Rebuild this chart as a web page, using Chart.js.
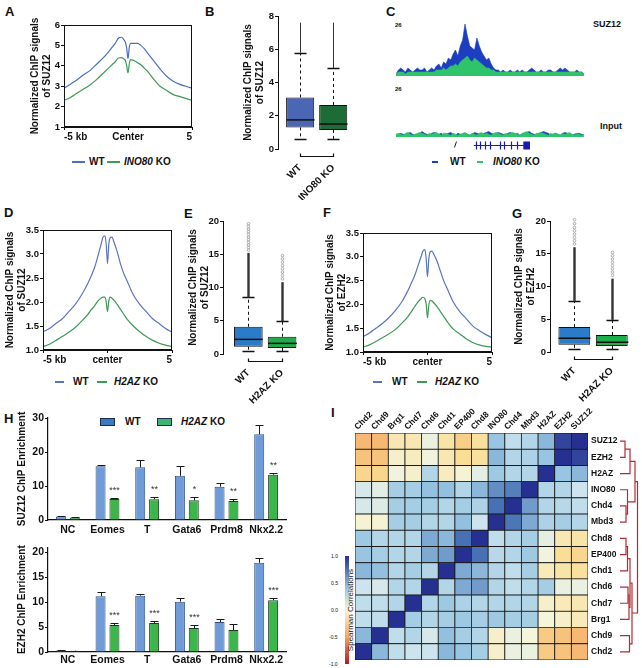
<!DOCTYPE html>
<html>
<head>
<meta charset="utf-8">
<script src="https://cdn.jsdelivr.net/npm/chart.js@4.4.0/dist/chart.umd.min.js"></script>
<style>
body { margin: 0; background: #fff; }
#fig { position: relative; width: 642px; height: 668px; overflow: hidden; font-family: 'Liberation Sans', Arial, sans-serif; color: #111; }
#fig canvas { position: absolute; }
.t { position: absolute; white-space: nowrap; font-weight: bold; line-height: 12px; font-size: 10px; }
.p { position: absolute; font-weight: bold; font-size: 13px; line-height: 13px; }
.d { position: absolute; height: 2px; }
.b { position: absolute; height: 6px; border: 1px solid #1a3050; }
</style>
</head>
<body>
<div id="fig">
  <div class="p" style="left:5px;top:5px">A</div>
  <div class="p" style="left:205px;top:5px">B</div>
  <div class="p" style="left:386px;top:5px">C</div>
  <div class="p" style="left:4px;top:206px">D</div>
  <div class="p" style="left:184px;top:207px">E</div>
  <div class="p" style="left:323px;top:206px">F</div>
  <div class="p" style="left:512px;top:207px">G</div>
  <div class="p" style="left:4px;top:412px">H</div>
  <div class="p" style="left:331px;top:406px">I</div>

  <!-- legend A -->
  <div class="d" style="left:72px;top:161px;width:13px;background:#4a70c0"></div>
  <div class="t" style="left:89px;top:156px">WT</div>
  <div class="d" style="left:107px;top:161px;width:13px;background:#3f9a55"></div>
  <div class="t" style="left:124px;top:156px"><i>INO80</i> KO</div>

  <!-- panel C labels -->
  <div class="t" style="left:395px;top:19px;font-size:6px">26</div>
  <div class="t" style="left:593px;top:18px;font-size:9px">SUZ12</div>
  <div class="t" style="left:395px;top:83px;font-size:6px">26</div>
  <div class="t" style="left:600px;top:120px;font-size:9px">Input</div>
  <div class="d" style="left:432px;top:161px;width:6px;background:#1d3ec0"></div>
  <div class="t" style="left:450px;top:156px">WT</div>
  <div class="d" style="left:477px;top:161px;width:6px;background:#2fc46a"></div>
  <div class="t" style="left:493px;top:156px"><i>INO80</i> KO</div>

  <!-- legend D -->
  <div class="d" style="left:55px;top:381px;width:9px;background:#5a74c4"></div>
  <div class="t" style="left:73px;top:376px">WT</div>
  <div class="d" style="left:97px;top:381px;width:10px;background:#3f9a55"></div>
  <div class="t" style="left:114px;top:376px"><i>H2AZ</i> KO</div>

  <!-- legend F -->
  <div class="d" style="left:373px;top:381px;width:9px;background:#5a74c4"></div>
  <div class="t" style="left:392px;top:376px">WT</div>
  <div class="d" style="left:417px;top:381px;width:10px;background:#3f9a55"></div>
  <div class="t" style="left:435px;top:376px"><i>H2AZ</i> KO</div>

  <!-- legend H -->
  <div class="b" style="left:100px;top:418px;width:13px;background:#3a78c4"></div>
  <div class="t" style="left:125px;top:416px">WT</div>
  <div class="b" style="left:157px;top:418px;width:13px;background:#3cb371"></div>
  <div class="t" style="left:181px;top:416px"><i>H2AZ</i> KO</div>

  <!-- colour bar I -->
  <div style="position:absolute;left:345px;top:556px;width:4px;height:108px;background:linear-gradient(to top, rgb(178,24,43), rgb(244,165,96) 25%, rgb(245,245,220) 50%, rgb(152,198,226) 70%, rgb(38,48,145))"></div>
  <div class="t" style="left:331px;top:550px;font-size:5px;font-weight:normal">1.0</div>
  <div class="t" style="left:331px;top:577px;font-size:5px;font-weight:normal">0.5</div>
  <div class="t" style="left:331px;top:604px;font-size:5px;font-weight:normal">0.0</div>
  <div class="t" style="left:329px;top:631px;font-size:5px;font-weight:normal">-0.5</div>
  <div class="t" style="left:329px;top:658px;font-size:5px;font-weight:normal">-1.0</div>
  <div class="t" style="left:306px;top:604px;font-size:8px;font-weight:normal;width:90px;text-align:center;transform:rotate(-90deg)">Spearman Correlations</div>
</div>

<script>
Chart.defaults.font.family = "'Liberation Sans', Arial, sans-serif";
Chart.defaults.font.size = 10;
Chart.defaults.font.weight = 'bold';
Chart.defaults.color = '#111';
Chart.defaults.animation = false;
Chart.defaults.responsive = false;
Chart.defaults.devicePixelRatio = 1;
Chart.defaults.plugins.legend.display = false;
Chart.defaults.plugins.tooltip.enabled = false;

// ---- profile data (A, D, F) ----
const profilePos = [-5, -4.5, -4, -3.5, -3, -2.5, -2, -1.5, -1.25, -1, -0.75, -0.5, -0.35, -0.2, -0.1, 0,
  0.1, 0.2, 0.35, 0.5, 0.75, 1, 1.25, 1.5, 2, 2.5, 3, 3.5, 4, 4.5, 5];
const aWT = [2.9, 3.1, 3.3, 3.55, 3.75, 4.05, 4.35, 4.7, 4.9, 5.1, 5.35, 5.4, 5.3, 5.15, 4.85, 4.35,
  4.9, 5.1, 5.1, 5.1, 5.1, 5.0, 4.85, 4.65, 4.25, 3.85, 3.5, 3.25, 3.1, 3.0, 2.9];
const aKO = [2.3, 2.45, 2.65, 2.85, 3.05, 3.3, 3.6, 3.9, 4.05, 4.2, 4.38, 4.4, 4.35, 4.25, 4.0, 3.65,
  4.1, 4.3, 4.28, 4.25, 4.15, 4.05, 3.9, 3.75, 3.35, 3.0, 2.8, 2.6, 2.5, 2.4, 2.3];
const dWT = [1.38, 1.45, 1.55, 1.65, 1.8, 1.95, 2.15, 2.4, 2.55, 2.72, 2.95, 3.2, 3.35, 3.38, 3.2, 2.8,
  3.2, 3.33, 3.35, 3.25, 3.05, 2.8, 2.6, 2.45, 2.15, 1.95, 1.8, 1.65, 1.55, 1.45, 1.37];
const dKO = [1.07, 1.12, 1.2, 1.28, 1.37, 1.47, 1.6, 1.75, 1.84, 1.92, 2.02, 2.08, 2.1, 2.1, 2.0, 1.8,
  2.02, 2.1, 2.08, 2.04, 1.95, 1.85, 1.75, 1.65, 1.5, 1.38, 1.28, 1.2, 1.14, 1.1, 1.07];
const fWT = [1.32, 1.4, 1.5, 1.6, 1.72, 1.87, 2.05, 2.3, 2.45, 2.6, 2.8, 3.0, 3.12, 3.15, 2.95, 2.58,
  2.95, 3.1, 3.12, 3.05, 2.9, 2.7, 2.5, 2.35, 2.05, 1.85, 1.7, 1.55, 1.45, 1.37, 1.3];
const fKO = [1.1, 1.15, 1.22, 1.3, 1.38, 1.47, 1.6, 1.75, 1.85, 1.95, 2.05, 2.12, 2.15, 2.12, 2.0, 1.72,
  1.98, 2.08, 2.07, 2.03, 1.95, 1.85, 1.75, 1.65, 1.48, 1.38, 1.28, 1.2, 1.15, 1.12, 1.1];

// ---- box plot data (B, E, G) ----
const bLabels = ['WT', 'INO80 KO'];
const bQ1 = [1.3, 1.15], bMed = [1.75, 1.5], bQ3 = [3.1, 2.65], bLo = [0.6, 0.6], bHi = [5.8, 4.85];
const bDense = [7.6, 7.6], bSparse = [[], []];
const eLabels = ['WT', 'H2AZ KO'];
const eQ1 = [1.1, 0.9], eMed = [2.2, 1.6], eQ3 = [4.1, 2.6], eLo = [0.4, 0.4], eHi = [8.5, 4.9];
const eDense = [15.2, 10.8];
const eSparse = [[15.6, 16.0, 16.4, 16.8, 17.2, 17.6, 18.0, 18.4, 18.8, 19.2, 19.6],
  [11.3, 11.8, 12.3, 12.8, 13.3, 13.8, 14.3, 14.8]];
const gLabels = ['WT', 'H2AZ KO'];
const gQ1 = [1.1, 0.9], gMed = [2.1, 1.5], gQ3 = [3.8, 2.6], gLo = [0.4, 0.4], gHi = [7.8, 4.9];
const gDense = [16.0, 11.2];
const gSparse = [[16.5, 17.0, 17.5, 18.0, 18.5, 19.0, 19.6, 20.2],
  [11.7, 12.2, 12.7, 13.2, 13.7, 14.2, 14.7, 15.2]];

// ---- genome tracks (C) ----
const trackWT = [1, 3, 4, 3, 2, 4, 3, 2, 3, 4, 3, 3, 4, 2, 3, 4, 3, 5, 6, 4,
  7, 6, 9, 8, 11, 13, 10, 15, 18, 26, 20, 15, 14, 13, 19, 15, 12, 10, 8, 9,
  6, 4, 3, 3, 2, 3, 2, 2, 3, 2, 2, 3, 2, 3, 2, 2, 3, 4, 3, 2,
  2, 3, 2, 2, 3, 3, 2, 2, 3, 4, 3, 4, 3, 2, 2, 2, 3, 2, 2, 1];
const trackKO = [1, 2, 2, 2, 1, 2, 2, 2, 2, 2, 2, 2, 2, 2, 2, 2, 2, 3, 3, 3,
  4, 3, 4, 5, 5, 6, 5, 7, 8, 9, 10, 8, 7, 9, 8, 7, 6, 5, 4, 4,
  3, 3, 2, 2, 2, 2, 2, 2, 2, 2, 2, 2, 2, 2, 2, 2, 2, 2, 2, 2,
  2, 2, 2, 2, 2, 2, 2, 2, 2, 2, 2, 2, 2, 2, 2, 2, 2, 2, 2, 1];
const inputWT = [1, 1.5, 2, 1.5, 1, 2, 2.5, 1.5, 1, 1.5, 2, 3, 2, 1.5, 1, 2, 2.5, 2, 1.5, 2,
  1, 1.5, 2, 2.5, 1.5, 1, 2, 1.5, 1, 2, 1.5, 1, 1.5, 2.5, 2, 1.5, 1, 2, 2.5, 3,
  2, 1.5, 2, 2.5, 2, 1.5, 1, 2, 2.5, 2, 1.5, 2, 1, 1.5, 2, 2.5, 3, 2, 1.5, 1,
  2, 2.5, 3, 2.5, 2, 1, 1.5, 2, 1.5, 1, 2, 2.5, 2, 1.5, 1, 1.5, 2, 2, 1.5, 1];
const inputKO = [1.5, 2, 1.5, 1, 2, 2.5, 1.5, 1, 1.5, 2, 2.5, 2, 1.5, 1, 2, 1.5, 2, 2.5, 1.5, 1,
  2, 2, 1.5, 1, 2, 1.5, 1, 1.5, 2, 2.5, 1.5, 1, 2, 1.5, 1, 2, 2.5, 1.5, 2, 1.5,
  1, 2, 2.5, 2, 1.5, 1, 2, 1.5, 2, 2.5, 2, 1.5, 1, 2, 2.5, 3, 2, 1.5, 1, 2,
  2, 2.5, 2, 1.5, 1, 2, 1.5, 2, 1.5, 1, 2, 1.5, 2, 2.5, 1.5, 1, 2, 1.5, 1, 1.5];
const geneSpan = [32.7, 56.3];
const geneExons = [33.5, 35.5, 37.5, 39.5, 43.5, 45.5, 48.3, 50.7];
const geneEnd = [53.5, 56.3];

// ---- ChIP-qPCR (H) ----
const hGenes = ['NC', 'Eomes', 'T', 'Gata6', 'Prdm8', 'Nkx2.2'];
const suzWT = [1.0, 15.8, 15.5, 13.0, 9.8, 25.2];
const suzWTErr = [0.2, 0.3, 2.0, 2.8, 1.2, 2.6];
const suzKO = [0.7, 6.2, 6.1, 5.8, 5.6, 13.3];
const suzKOErr = [0.15, 0.3, 0.7, 1.0, 0.5, 0.5];
const suzStars = ['', '***', '**', '*', '**', '**'];
const ezhWT = [0.3, 11.2, 11.3, 10.1, 6.0, 17.9];
const ezhWTErr = [0.15, 0.8, 0.4, 0.7, 0.6, 0.9];
const ezhKO = [0.25, 5.4, 5.8, 4.8, 4.4, 10.4];
const ezhKOErr = [0.05, 0.5, 0.4, 0.6, 1.2, 0.5];
const ezhStars = ['', '***', '***', '***', '', '***'];

// ---- correlation heatmap (I) ----
const colNames = ['Chd2', 'Chd9', 'Brg1', 'Chd7', 'Chd6', 'Chd1', 'EP400', 'Chd8', 'INO80', 'Chd4', 'Mbd3', 'H2AZ', 'EZH2', 'SUZ12'];
const rowNames = ['SUZ12', 'EZH2', 'H2AZ', 'INO80', 'Chd4', 'Mbd3', 'Chd8', 'EP400', 'Chd1', 'Chd6', 'Chd7', 'Brg1', 'Chd9', 'Chd2'];
const corrRows = [
  [-0.4, -0.4, -0.12, -0.12, 0.05, -0.15, -0.28, -0.18, 0.4, 0.25, 0.3, 0.45, 0.9, 1.0],
  [-0.35, -0.35, -0.05, -0.08, 0.02, -0.12, -0.2, -0.18, 0.45, 0.3, 0.32, 0.4, 1.0, 0.9],
  [-0.25, -0.25, 0.02, -0.05, 0.3, -0.08, -0.02, 0.08, 0.38, 0.3, 0.3, 1.0, 0.4, 0.45],
  [0.15, 0.1, 0.35, 0.35, 0.42, 0.42, 0.3, 0.45, 0.6, 0.65, 1.0, 0.3, 0.3, 0.2],
  [0.15, 0.12, 0.35, 0.35, 0.35, 0.3, 0.35, 0.32, 0.7, 1.0, 0.55, 0.3, 0.28, 0.25],
  [-0.02, -0.02, 0.35, 0.35, 0.3, 0.3, 0.42, 0.2, 1.0, 0.68, 0.5, 0.32, 0.35, 0.3],
  [0.38, 0.3, 0.3, 0.3, 0.5, 0.45, 0.7, 1.0, 0.25, 0.3, 0.35, 0.08, -0.12, -0.15],
  [0.4, 0.35, 0.3, 0.3, 0.5, 0.55, 1.0, 0.7, 0.28, 0.3, 0.38, 0.02, -0.2, -0.25],
  [0.45, 0.42, 0.3, 0.35, 0.3, 1.0, 0.5, 0.45, 0.3, 0.25, 0.35, -0.1, -0.15, -0.18],
  [0.2, 0.15, 0.3, 0.3, 1.0, 0.3, 0.5, 0.55, 0.3, 0.25, 0.3, 0.35, 0.05, 0.05],
  [0.25, 0.25, 0.3, 1.0, 0.3, 0.38, 0.32, 0.3, 0.3, 0.3, 0.3, -0.05, -0.1, -0.12],
  [0.25, 0.25, 1.0, 0.35, 0.3, 0.35, 0.38, 0.35, 0.38, 0.35, 0.35, 0.0, -0.05, -0.1],
  [0.45, 1.0, 0.25, 0.3, 0.15, 0.42, 0.35, 0.3, -0.05, 0.05, 0.0, -0.3, -0.35, -0.4],
  [1.0, 0.45, 0.25, 0.2, 0.2, 0.45, 0.4, 0.35, -0.05, 0.05, 0.05, -0.3, -0.35, -0.4]
];
// dendrogram joins: [row a, height a, row b, height b, join height]
const dendroLinks = [
  [0, 0, 1, 0, 5], [0.5, 5, 2, 0, 10], [4, 0, 5, 0, 6], [3, 0, 4.5, 6, 7.5],
  [1.25, 10, 3.75, 7.5, 15], [6, 0, 7, 0, 6], [6.5, 6, 8, 0, 7.5], [9, 0, 10, 0, 8],
  [9.5, 8, 11, 0, 9], [7.25, 7.5, 10.25, 9, 10], [12, 0, 13, 0, 9.5],
  [8.75, 10, 12.5, 9.5, 12], [2.5, 15, 10.6, 12, 17.5]
];

// ---------------------------------------------------------------
function canvasAt(left, top, w, h) {
  const c = document.createElement('canvas');
  c.width = w; c.height = h;
  c.style.left = left + 'px'; c.style.top = top + 'px';
  c.style.width = w + 'px'; c.style.height = h + 'px';
  document.getElementById('fig').appendChild(c);
  return c;
}

const frame = {
  id: 'frame',
  afterDraw(c) {
    const a = c.chartArea, ctx = c.ctx;
    ctx.save();
    ctx.strokeStyle = '#111'; ctx.lineWidth = 1;
    ctx.strokeRect(a.left + 0.5, a.top + 0.5, a.width - 1, a.height - 1);
    ctx.restore();
  }
};

const yGrid = { display: true, drawOnChartArea: false, tickLength: 3, color: '#111' };
const titleFont = { size: 10, weight: 'bold', lineHeight: 1.2 };
const tickFont = { size: 9.5, weight: 'bold' };

function profileChart(canvas, pad, yW, xH, wt, ko, yMin, yMax, step, dec, yTitle, titlePad, centerText, wtColor) {
  return new Chart(canvas, {
    type: 'line',
    data: {
      datasets: [
        { data: profilePos.map((x, i) => ({ x, y: wt[i] })), borderColor: wtColor, borderWidth: 1.2,
          pointRadius: 0, cubicInterpolationMode: 'monotone' },
        { data: profilePos.map((x, i) => ({ x, y: ko[i] })), borderColor: '#3f9a55', borderWidth: 1.2,
          pointRadius: 0, cubicInterpolationMode: 'monotone' }
      ]
    },
    options: {
      layout: { padding: pad },
      scales: {
        x: {
          type: 'linear', min: -5, max: 5,
          afterFit: s => { s.height = xH; },
          afterBuildTicks: s => { s.ticks = [{ value: -5 }, { value: 0 }, { value: 5 }]; },
          ticks: { align: 'inner', padding: 1, callback: v => v === -5 ? '-5 kb' : v === 0 ? centerText : '5' },
          grid: { display: true, drawOnChartArea: false, tickLength: 3, color: '#111' },
          border: { color: '#111' }
        },
        y: {
          min: yMin, max: yMax,
          afterFit: s => { s.width = yW; },
          ticks: { stepSize: step, padding: 1, font: tickFont, callback: v => v.toFixed(dec) },
          grid: yGrid, border: { color: '#111' },
          title: { display: true, text: ['Normalized ChIP signals', yTitle],
            padding: { top: titlePad, bottom: 0 }, font: titleFont }
        }
      }
    },
    plugins: [frame]
  });
}

const boxDraw = {
  id: 'boxDraw',
  afterDatasetsDraw(c) {
    const bx = c.config.options.boxInfo, ctx = c.ctx, y = c.scales.y;
    const meta = c.getDatasetMeta(0);
    ctx.save();
    ctx.strokeStyle = '#111';
    meta.data.forEach((el, i) => {
      const x = Math.round(el.x) + 0.5, hw = el.width / 2;
      ctx.lineWidth = 1.5;
      ctx.beginPath();
      ctx.moveTo(x - hw, y.getPixelForValue(bx.med[i]));
      ctx.lineTo(x + hw, y.getPixelForValue(bx.med[i]));
      ctx.stroke();
      ctx.lineWidth = 1;
      ctx.setLineDash([3, 3]);
      ctx.beginPath();
      ctx.moveTo(x, y.getPixelForValue(bx.q3[i])); ctx.lineTo(x, y.getPixelForValue(bx.hi[i]));
      ctx.moveTo(x, y.getPixelForValue(bx.q1[i])); ctx.lineTo(x, y.getPixelForValue(bx.lo[i]));
      ctx.stroke();
      ctx.setLineDash([]);
      ctx.lineWidth = 1.3;
      ctx.beginPath();
      [bx.hi[i], bx.lo[i]].forEach(v => {
        const py = Math.round(y.getPixelForValue(v)) + 0.5;
        ctx.moveTo(x - 6, py); ctx.lineTo(x + 6, py);
      });
      ctx.stroke();
      ctx.lineWidth = bx.denseW;
      ctx.strokeStyle = bx.denseColor;
      ctx.beginPath();
      ctx.moveTo(x, y.getPixelForValue(bx.hi[i])); ctx.lineTo(x, y.getPixelForValue(bx.dense[i]));
      ctx.stroke();
      ctx.strokeStyle = '#999'; ctx.lineWidth = 0.8;
      bx.sparse[i].forEach(v => {
        ctx.beginPath(); ctx.arc(x, y.getPixelForValue(v), 1.3, 0, Math.PI * 2); ctx.stroke();
      });
      ctx.strokeStyle = '#111';
    });
    // bracket under the two groups
    const a = c.chartArea, x1 = Math.round(meta.data[0].x) + 0.5, x2 = Math.round(meta.data[1].x) + 0.5;
    const by = a.bottom + 7.5;
    ctx.lineWidth = 1.2;
    ctx.beginPath();
    ctx.moveTo(x1, by - 3); ctx.lineTo(x1, by); ctx.lineTo(x2, by); ctx.lineTo(x2, by - 3);
    ctx.stroke();
    ctx.restore();
  }
};

function boxChart(canvas, pad, yW, xH, xMin, xMax, yMax, step, yTitle, titlePad, labels, q1, med, q3, lo, hi, dense, sparse, fills, denseW, denseColor) {
  return new Chart(canvas, {
    type: 'bar',
    data: {
      datasets: [{
        data: [{ x: 1, y: [q1[0], q3[0]] }, { x: 2, y: [q1[1], q3[1]] }],
        backgroundColor: fills, borderColor: '#111', borderWidth: 1, borderSkipped: false,
        barPercentage: 0.85, categoryPercentage: 1
      }]
    },
    options: {
      boxInfo: { q1, med, q3, lo, hi, dense, sparse, denseW, denseColor },
      layout: { padding: pad },
      scales: {
        x: {
          type: 'linear', min: xMin, max: xMax, offset: false,
          afterFit: s => { s.height = xH; },
          afterBuildTicks: s => { s.ticks = [{ value: 1 }, { value: 2 }]; },
          ticks: { minRotation: 45, maxRotation: 45, padding: 13, callback: (v, i) => labels[i] },
          grid: { display: false, drawTicks: false }, border: { display: false }
        },
        y: {
          min: 0, max: yMax,
          afterFit: s => { s.width = yW; },
          ticks: { stepSize: step, padding: 1, font: tickFont },
          grid: yGrid, border: { color: '#111' },
          title: { display: true, text: ['Normalized ChIP signals', yTitle],
            padding: { top: titlePad, bottom: 0 }, font: titleFont }
        }
      }
    },
    plugins: [boxDraw]
  });
}

const errStars = {
  id: 'errStars',
  afterDatasetsDraw(c) {
    const info = c.config.options.errInfo, ctx = c.ctx, y = c.scales.y;
    ctx.save();
    ctx.strokeStyle = '#1a1a1a'; ctx.lineWidth = 1;
    [0, 1].forEach(d => {
      const vals = d === 0 ? info.wt : info.ko, errs = d === 0 ? info.wtErr : info.koErr;
      c.getDatasetMeta(d).data.forEach((el, i) => {
        const x = Math.round(el.x) + 0.5;
        const top = Math.round(y.getPixelForValue(vals[i] + errs[i])) + 0.5;
        ctx.beginPath();
        ctx.moveTo(x, el.y); ctx.lineTo(x, top);
        ctx.moveTo(x - 4, top); ctx.lineTo(x + 4, top);
        ctx.stroke();
        if (d === 1 && info.stars[i]) {
          ctx.fillStyle = '#333';
          ctx.font = "9px 'Liberation Sans', Arial, sans-serif";
          ctx.textAlign = 'center'; ctx.textBaseline = 'bottom';
          ctx.fillText(info.stars[i], x, top - 3);
        }
      });
    });
    ctx.restore();
  }
};

function enrichChart(canvas, pad, yW, xH, xPad, yMax, step, yTitle, titlePad, wt, wtErr, ko, koErr, stars) {
  return new Chart(canvas, {
    type: 'bar',
    data: {
      labels: hGenes,
      datasets: [
        { data: wt, backgroundColor: '#6f9bd8', borderColor: '#2f4f7f', borderWidth: 1,
          borderSkipped: 'bottom', barPercentage: 0.72, categoryPercentage: 0.7 },
        { data: ko, backgroundColor: '#3cb54a', borderColor: '#1c3d22', borderWidth: 1,
          borderSkipped: 'bottom', barPercentage: 0.72, categoryPercentage: 0.7 }
      ]
    },
    options: {
      errInfo: { wt, wtErr, ko, koErr, stars },
      layout: { padding: pad },
      scales: {
        x: {
          afterFit: s => { s.height = xH; },
          ticks: { padding: xPad, minRotation: 0, maxRotation: 0, autoSkip: false, font: { size: 10.5, weight: 'bold' } },
          grid: { display: false, drawTicks: false }, border: { color: '#111', width: 1.2 }
        },
        y: {
          min: 0, max: yMax,
          afterFit: s => { s.width = yW; },
          ticks: { stepSize: step, padding: 1, includeBounds: false, font: { size: 10.5, weight: 'bold' } },
          grid: yGrid, border: { color: '#111', width: 1.2 },
          title: { display: true, text: yTitle, padding: { top: titlePad, bottom: 0 }, font: titleFont }
        }
      }
    },
    plugins: [errStars]
  });
}

function trackChart(canvas, pad, wt, ko, extra) {
  return new Chart(canvas, {
    type: 'line',
    data: {
      labels: wt.map((_, i) => i),
      datasets: [
        { data: ko, borderColor: '#2fc46a', backgroundColor: '#2fc46a', fill: 'origin',
          borderWidth: 0.6, pointRadius: 0, tension: 0 },
        { data: wt, borderColor: '#1d3ec0', backgroundColor: '#1d3ec0', fill: 'origin',
          borderWidth: 0.6, pointRadius: 0, tension: 0 }
      ]
    },
    options: {
      layout: { padding: pad },
      scales: { x: { display: false }, y: { display: false, min: 0, max: 26 } }
    },
    plugins: extra
  });
}

const geneModel = {
  id: 'geneModel',
  afterDraw(c) {
    const ctx = c.ctx, x = c.scales.x, gy = c.chartArea.bottom + 8.5;
    ctx.save();
    ctx.strokeStyle = '#1a1ab0'; ctx.fillStyle = '#1a1ab0'; ctx.lineWidth = 1.2;
    ctx.beginPath();
    ctx.moveTo(x.getPixelForValue(geneSpan[0]), gy); ctx.lineTo(x.getPixelForValue(geneSpan[1]), gy);
    geneExons.forEach(e => {
      const px = Math.round(x.getPixelForValue(e)) + 0.5;
      ctx.moveTo(px, gy - 4); ctx.lineTo(px, gy + 4);
    });
    ctx.stroke();
    const e0 = x.getPixelForValue(geneEnd[0]), e1 = x.getPixelForValue(geneEnd[1]);
    ctx.fillRect(e0, gy - 4, e1 - e0, 8);
    ctx.strokeStyle = '#222'; ctx.lineWidth = 1;
    ctx.beginPath();
    ctx.moveTo(x.getPixelForValue(25) - 1, gy + 2); ctx.lineTo(x.getPixelForValue(25) + 1, gy - 4);
    ctx.stroke();
    ctx.restore();
  }
};

// ---- panel A ----
profileChart(canvasAt(0, 15, 200, 135), { top: 10, right: 8, left: 0, bottom: 0 }, 64, 23,
  aWT, aKO, 1, 6, 1, 0, 'of SUZ12', 29, 'Center', '#4a70c0');
// ---- panel B ----
boxChart(canvasAt(200, 5, 162, 195), { top: 11, right: 4, left: 0, bottom: 0 }, 78, 51,
  0.33, 2.75, 8, 2, 'of SUZ12', 42, bLabels, bQ1, bMed, bQ3, bLo, bHi, bDense, bSparse,
  ['#4a66b4', '#1d6b37'], 1, '#333');
// ---- panel C ----
trackChart(canvasAt(390, 20, 212, 60), { top: 4, left: 6, right: 18, bottom: 4 }, trackWT, trackKO, []);
trackChart(canvasAt(390, 85, 212, 70), { top: 4, left: 6, right: 18, bottom: 18 }, inputWT, inputKO, [geneModel]);
// ---- panel D ----
profileChart(canvasAt(0, 215, 180, 157), { top: 15, right: 8, left: 0, bottom: 0 }, 43, 22,
  dWT, dKO, 1, 3.5, 0.5, 1, 'of SUZ12', 4, 'center', '#5a74c4');
// ---- panel E ----
boxChart(canvasAt(180, 205, 128, 200), { top: 16, right: 4, left: 0, bottom: 0 }, 43, 51,
  0.25, 2.65, 20, 5, 'of SUZ12', 7, eLabels, eQ1, eMed, eQ3, eLo, eHi, eDense, eSparse,
  ['#2a7bc8', '#21a94b'], 2.4, '#333');
// ---- panel F ----
profileChart(canvasAt(320, 215, 180, 157), { top: 18, right: 8, left: 0, bottom: 0 }, 43, 20,
  fWT, fKO, 1, 3.5, 0.5, 1, 'of EZH2', 4, 'center', '#5a74c4');
// ---- panel G ----
boxChart(canvasAt(500, 205, 142, 200), { top: 16, right: 4, left: 0, bottom: 0 }, 50, 53,
  0.35, 2.7, 20, 5, 'of EZH2', 13, gLabels, gQ1, gMed, gQ3, gLo, gHi, gDense, gSparse,
  ['#2a7bc8', '#1fae4c'], 2.4, '#333');
// ---- panel H ----
enrichChart(canvasAt(0, 410, 292, 128), { top: 8, right: 6, left: 0, bottom: 0 }, 48, 18, 4,
  30, 10, 'SUZ12 ChIP Enrichment', 16, suzWT, suzWTErr, suzKO, suzKOErr, suzStars);
enrichChart(canvasAt(0, 540, 292, 128), { top: 6, right: 6, left: 0, bottom: 0 }, 48, 16, 2,
  21, 5, 'EZH2 ChIP Enrichment', 16, ezhWT, ezhWTErr, ezhKO, ezhKOErr, ezhStars);

// ---- panel I heatmap ----
const corrStops = [[-1, [178, 24, 43]], [-0.5, [244, 165, 96]], [-0.2, [250, 222, 150]], [0, [245, 245, 220]],
  [0.2, [205, 228, 238]], [0.4, [152, 198, 226]], [0.7, [72, 112, 180]], [1, [38, 48, 145]]];
function corrColor(v) {
  for (let k = 1; k < corrStops.length; k++) {
    const [v1, c1] = corrStops[k];
    if (v <= v1) {
      const [v0, c0] = corrStops[k - 1];
      const t = (v - v0) / (v1 - v0);
      return 'rgb(' + c0.map((c, j) => Math.round(c + (c1[j] - c) * t)).join(',') + ')';
    }
  }
  return 'rgb(38,48,145)';
}
new Chart(canvasAt(350, 395, 282, 273), {
  type: 'bar',
  data: {
    labels: colNames,
    datasets: corrRows.map((_, k) => {
      const r = corrRows.length - 1 - k;
      return {
        data: colNames.map(() => 1),
        backgroundColor: corrRows[r].map(corrColor),
        borderColor: '#1a1a1a', borderWidth: 0.8, borderSkipped: false,
        barPercentage: 1, categoryPercentage: 1
      };
    })
  },
  options: {
    layout: { padding: { left: 5, top: 0, right: 0, bottom: 8 } },
    scales: {
      x: {
        position: 'top', stacked: true,
        afterFit: s => { s.height = 38; },
        ticks: { minRotation: 45, maxRotation: 45, autoSkip: false, padding: 1, font: { size: 8.5, weight: 'bold' } },
        grid: { display: false, drawTicks: false, tickLength: 0 }, border: { display: false }
      },
      y: {
        position: 'right', stacked: true, min: 0, max: 14,
        afterFit: s => { s.width = 44; },
        afterBuildTicks: s => { s.ticks = rowNames.map((_, i) => ({ value: 13.5 - i })); },
        ticks: { padding: 3, font: { size: 8.5, weight: 'bold' }, callback: (v, i) => rowNames[i] },
        grid: { display: false, drawTicks: false, tickLength: 0 }, border: { display: false }
      }
    }
  }
});

new Chart(canvasAt(612, 433, 30, 227), {
  type: 'scatter',
  data: {
    datasets: dendroLinks.map(([ya, ha, yb, hb, h]) => ({
      data: [{ x: ha, y: ya }, { x: h, y: ya }, { x: h, y: yb }, { x: hb, y: yb }],
      showLine: true, borderColor: '#b52a30', borderWidth: 1.2, pointRadius: 0
    }))
  },
  options: {
    layout: { padding: 0 },
    scales: {
      x: { display: false, min: -8, max: 22 },
      y: { display: false, min: -0.5, max: 13.5, reverse: true }
    }
  }
});
</script>
</body>
</html>
